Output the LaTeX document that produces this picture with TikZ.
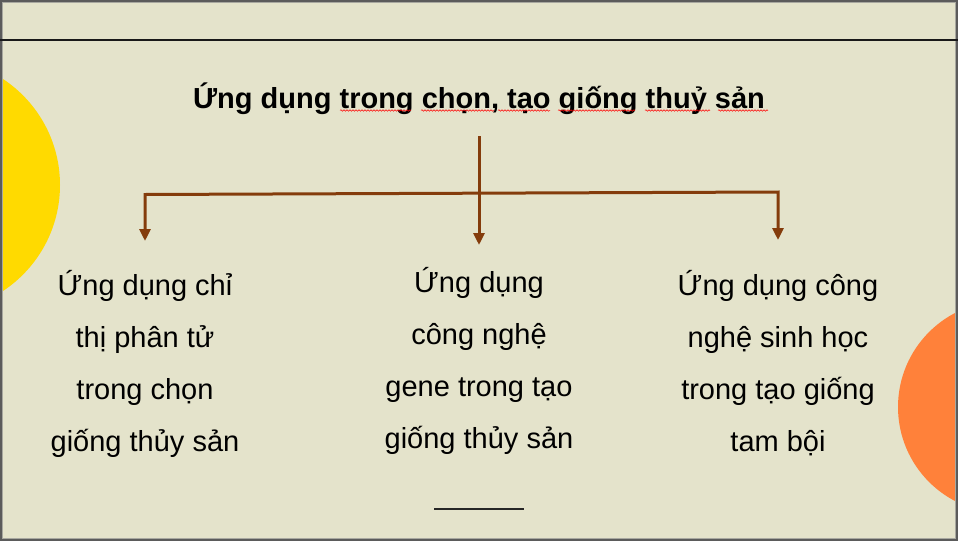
\documentclass[tikz,border=0pt]{standalone}
\usepackage{fontspec}
\setmainfont{Liberation Sans}
\usetikzlibrary{arrows.meta,decorations.pathmorphing}
\definecolor{bg}{HTML}{E4E3CB}
\definecolor{framegray}{HTML}{5B5B5B}
\definecolor{framelight}{HTML}{A8A8A0}
\definecolor{arrbrown}{HTML}{843C0C}
\definecolor{yel}{HTML}{FFDA00}
\definecolor{org}{HTML}{FF813A}
\begin{document}
\begin{tikzpicture}[x=1pt,y=-1pt,
  titlestyle/.style={font=\bfseries\fontsize{29}{35}\selectfont, anchor=base, inner sep=0pt},
  bodystyle/.style={font=\fontsize{29}{35}\selectfont, anchor=base, inner sep=0pt},
  brarrow/.style={draw=arrbrown, line width=3pt, line join=miter},
  tip/.style={-{Triangle[length=12pt,width=11pt]}},
  squig/.style={draw=red, line width=0.5pt, decorate, decoration={snake, amplitude=0.8pt, segment length=3pt}}]
\useasboundingbox (0,0) rectangle (958,541);
% frame and background
\fill[framegray] (0,0) rectangle (958,541);
\fill[bg] (3,3) rectangle (955,538);
\begin{scope}
  \clip (3,3) rectangle (955,538);
  \fill[yel] (-67,185) circle[radius=127pt];
  \fill[org] (1004,407) circle[radius=106pt];
\end{scope}
\draw[framelight, line width=0.6pt] (2.7,2.7) rectangle (955.3,538.3);
% top black rule
\coordinate (ruleL) at (0,40);
\coordinate (ruleR) at (958,40);
\draw[line width=2pt, black!90] (ruleL) -- (ruleR);
% title
\node[titlestyle] (title) at (479,108) {Ứng dụng trong chọn, tạo giống thuỷ sản};
% spell-check squiggles
\draw[squig] (340,110.5) -- (411,110.5);
\draw[squig] (421,110.5) -- (494,110.5);
\draw[squig] (498,110.5) -- (550,110.5);
\draw[squig] (558,110.5) -- (635,110.5);
\draw[squig] (645,110.5) -- (710,110.5);
\draw[squig] (718,110.5) -- (768,110.5);
% connectors
\coordinate (ctop) at (479,136);
\coordinate (cmid) at (479,245);
\coordinate (hl) at (145,194.5);
\coordinate (hr) at (778,192);
\coordinate (lt) at (145,241);
\coordinate (rt) at (778,240);
\draw[brarrow, tip] (ctop) -- (cmid);
\draw[brarrow, {Triangle[length=12pt,width=11pt]}-{Triangle[length=12pt,width=11pt]}] (lt) -- (hl) -- (hr) -- (rt);
% left block
\node[bodystyle] (l1) at (145,295) {Ứng dụng chỉ};
\node[bodystyle] (l2) at (145,347) {thị phân tử};
\node[bodystyle] (l3) at (145,399) {trong chọn};
\node[bodystyle] (l4) at (145,451) {giống thủy sản};
% middle block
\node[bodystyle] (m1) at (479,292.5) {Ứng dụng};
\node[bodystyle] (m2) at (479,344.5) {công nghệ};
\node[bodystyle] (m3) at (479,396.5) {gene trong tạo};
\node[bodystyle] (m4) at (479,448.5) {giống thủy sản};
% right block
\node[bodystyle] (r1) at (778,295) {Ứng dụng công};
\node[bodystyle] (r2) at (778,347) {nghệ sinh học};
\node[bodystyle] (r3) at (778,399) {trong tạo giống};
\node[bodystyle] (r4) at (778,451) {tam bội};
% bottom short line
\coordinate (bl) at (434,509);
\coordinate (br) at (524,509);
\draw[line width=2pt, black!85] (bl) -- (br);
\end{tikzpicture}
\end{document}
